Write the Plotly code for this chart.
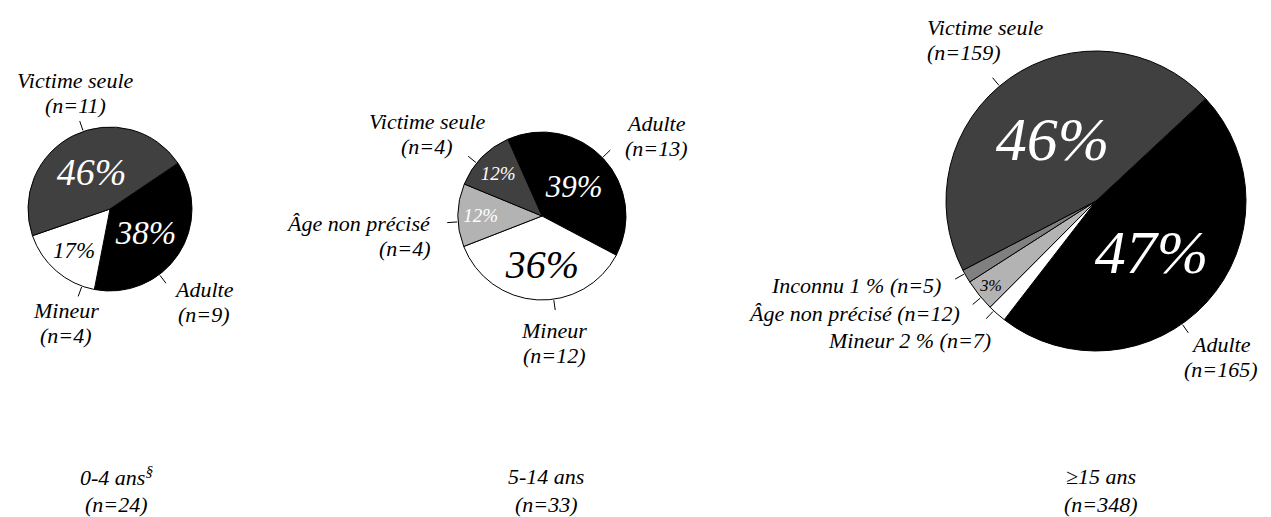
import math

import plotly.graph_objects as go

# --- data -------------------------------------------------------------------
pie1_labels = ["Adulte", "Mineur", "Victime seule"]
pie1_values = [9, 4, 11]

pie2_labels = ["Adulte", "Mineur", "Âge non précisé", "Victime seule"]
pie2_values = [13, 12, 4, 4]

pie3_labels = ["Adulte", "Mineur", "Âge non précisé", "Inconnu", "Victime seule"]
pie3_values = [165, 7, 12, 5, 159]

group_titles = ["0-4 ans<sup>§</sup>", "5-14 ans", "≥15 ans"]

# --- styling ----------------------------------------------------------------
W, H = 1271, 517
OFF = 8  # page margin around the plot div
FONT = "Liberation Serif"
LABEL_SIZE = 22
LINE_GAP = 25    # px between the two lines of a stacked label
TITLE_GAP = 28
TITLE_Y = 490

slice_colors = {
    "Adulte": "#000000",
    "Mineur": "#ffffff",
    "Âge non précisé": "#b3b3b3",
    "Inconnu": "#808080",
    "Victime seule": "#404040",
}

# per pie: centre / radius in px, start angle, inside-text sizes & colours,
# and the outside labels (label, leader angle, text x, text y, anchor, kind)
pies = [
    dict(
        labels=pie1_labels, values=pie1_values, cx=110, cy=209, r=82, rotation=56,
        pct_size=[33, 23, 38], pct_color=["white", "black", "white"],
        pct_show=[True, True, True],
        notes=[
            ("Victime seule", 341, 75, 93, "center", "stack"),
            ("Adulte", 143, 204, 302, "center", "stack"),
            ("Mineur", 200, 66, 323, "center", "stack"),
        ],
        title_x=116,
    ),
    dict(
        labels=pie2_labels, values=pie2_values, cx=542, cy=216, r=84, rotation=-24,
        pct_size=[31, 40, 19, 19], pct_color=["white", "black", "white", "white"],
        pct_show=[True, True, True, True],
        notes=[
            ("Victime seule", 309, 427, 134, "center", "stack"),
            ("Adulte", 46, 656, 136, "center", "stack"),
            ("Âge non précisé", 266, 433, 236, "right", "stack"),
            ("Mineur", 172, 554, 343, "center", "stack"),
        ],
        title_x=546,
    ),
    dict(
        labels=pie3_labels, values=pie3_values, cx=1096, cy=201, r=150, rotation=47,
        pct_size=[62, 17, 17, 17, 62],
        pct_color=["white", "black", "black", "black", "white"],
        pct_show=[True, False, True, False, True],
        notes=[
            ("Victime seule", 320, 925, 40, "left", "stack"),
            ("Adulte", 145, 1221, 357, "center", "stack"),
            ("Inconnu", 241, 943, 285, "right", "pct"),
            ("Âge non précisé", 230, 962, 313, "right", "inline"),
            ("Mineur", 223, 993, 340, "right", "pct"),
        ],
        title_x=1101,
    ),
]


def px_x(x):
    return (x - OFF) / W


def px_y(y):
    return 1 - (y - OFF) / H


def text_lines(lines, x, y, anchor, gap=LINE_GAP):
    """One annotation per line so the line spacing can be set."""
    top = y - gap * (len(lines) - 1) / 2
    return [
        dict(
            x=px_x(x), y=px_y(top + j * gap), xref="paper", yref="paper",
            xanchor=anchor, yanchor="middle", align=anchor,
            text=line, showarrow=False,
            font=dict(family=FONT, style="italic", size=LABEL_SIZE, color="black"),
        )
        for j, line in enumerate(lines)
    ]


fig = go.Figure()
shapes = []
annotations = []

for k, p in enumerate(pies):
    total = sum(p["values"])
    pcts = [round(100 * v / total) for v in p["values"]]
    cx, cy, r = p["cx"], p["cy"], p["r"]

    fig.add_trace(
        go.Pie(
            labels=p["labels"],
            values=p["values"],
            sort=False,
            direction="clockwise",
            rotation=p["rotation"],
            marker=dict(
                colors=[slice_colors[lab] for lab in p["labels"]],
                line=dict(color="black", width=1),
            ),
            text=[f"{pc}%" if show else " " for pc, show in zip(pcts, p["pct_show"])],
            textinfo="text",
            textposition=["inside" if s else "none" for s in p["pct_show"]],
            insidetextorientation="horizontal",
            insidetextfont=dict(
                family=FONT, style="italic",
                size=p["pct_size"], color=p["pct_color"],
            ),
            hoverinfo="skip",
            domain=dict(
                x=[px_x(cx - r), px_x(cx + r)],
                y=[px_y(cy + r), px_y(cy - r)],
            ),
        )
    )

    for lab, ang, tx, ty, anchor, kind in p["notes"]:
        i = p["labels"].index(lab)
        n = p["values"][i]
        if kind == "stack":
            lines = [lab, f"(n={n})"]
        elif kind == "pct":
            lines = [f"{lab} {pcts[i]} % (n={n})"]
        else:
            lines = [f"{lab} (n={n})"]
        a = math.radians(ang)
        x0 = cx + (r + 1) * math.sin(a)
        y0 = cy - (r + 1) * math.cos(a)
        x1 = cx + (r + 11) * math.sin(a)
        y1 = cy - (r + 11) * math.cos(a)
        shapes.append(dict(
            type="line", xref="paper", yref="paper",
            x0=px_x(x0), y0=px_y(y0), x1=px_x(x1), y1=px_y(y1),
            line=dict(color="black", width=1),
        ))
        annotations += text_lines(lines, tx, ty, anchor)

    annotations += text_lines(
        [group_titles[k], f"(n={total})"], p["title_x"], TITLE_Y, "center", TITLE_GAP
    )

fig.update_layout(
    width=W,
    height=H,
    margin=dict(l=0, r=0, t=0, b=0),
    paper_bgcolor="white",
    plot_bgcolor="white",
    showlegend=False,
    shapes=shapes,
    annotations=annotations,
)

fig.write_html("out.html")
